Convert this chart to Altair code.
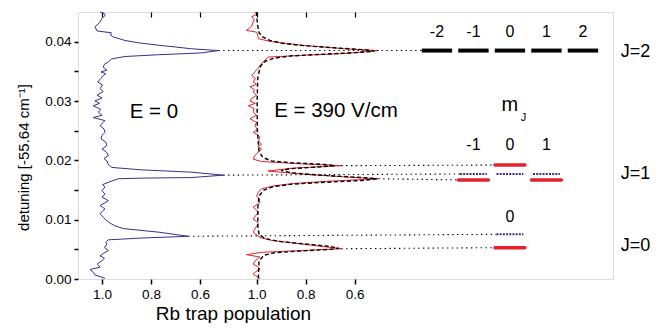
import altair as alt
import pandas as pd

# ---------------- data ----------------
# E = 0 spectrum (detuning, Rb trap population)
e0_det = [0.0450, 0.0447, 0.0444, 0.0439, 0.0432, 0.0425, 0.0418, 0.0415, 0.0411, 0.0408,
          0.0402, 0.0398, 0.0394, 0.0391, 0.0388, 0.0385, 0.0381, 0.0378, 0.0375, 0.0371,
          0.0366, 0.0362, 0.0357, 0.0352, 0.0349, 0.0346, 0.0343, 0.0338, 0.0332, 0.0327,
          0.0321, 0.0316, 0.0310, 0.0305, 0.0300, 0.0296, 0.0292, 0.0286, 0.0281, 0.0276,
          0.0272, 0.0267, 0.0262, 0.0258, 0.0253, 0.0247, 0.0242, 0.0236, 0.0231, 0.0225,
          0.0219, 0.0214, 0.0208, 0.0203, 0.0199, 0.0193, 0.0188, 0.0184, 0.0180, 0.0175,
          0.0171, 0.0170, 0.0169, 0.0163, 0.0159, 0.0155, 0.0149, 0.0143, 0.0138, 0.0132,
          0.0128, 0.0124, 0.0118, 0.0114, 0.0110, 0.0104, 0.0100, 0.0096, 0.0090, 0.0085,
          0.0079, 0.0072, 0.0069, 0.0066, 0.0062, 0.0059, 0.0053, 0.0048, 0.0043, 0.0039,
          0.0035, 0.0031, 0.0025, 0.0020, 0.0016, 0.0011, 0.0007, 0.0001]
e0_pop = [1.008, 0.990, 0.988, 1.000, 1.010, 1.029, 1.020, 0.962, 0.965, 0.954,
          0.906, 0.850, 0.770, 0.700, 0.634, 0.525, 0.595, 0.770, 0.906, 0.960,
          0.974, 0.990, 0.995, 0.980, 1.004, 0.985, 0.995, 1.005, 1.018, 0.998,
          1.008, 0.995, 1.020, 1.000, 1.029, 1.010, 1.036, 1.005, 1.015, 1.000,
          1.036, 0.988, 1.000, 1.008, 0.992, 0.988, 1.000, 1.004, 0.985, 0.980,
          1.000, 0.982, 0.974, 0.992, 0.980, 0.975, 0.960, 0.840, 0.634, 0.505,
          0.634, 0.840, 0.933, 0.974, 0.998, 0.988, 1.000, 0.988, 1.000, 0.974,
          0.990, 1.008, 0.988, 0.998, 1.008, 0.995, 0.985, 0.974, 0.950, 0.913,
          0.770, 0.648, 0.840, 0.974, 0.985, 0.980, 0.990, 0.974, 0.995, 1.008,
          0.990, 1.000, 1.020, 1.008, 1.049, 1.035, 1.029, 0.988]

# E = 390 V/cm spectrum
e390_det = [0.0450, 0.0446, 0.0442, 0.0437, 0.0433, 0.0426, 0.0419, 0.0416, 0.0410, 0.0405,
            0.0400, 0.0394, 0.0388, 0.0385, 0.0380, 0.0377, 0.0374, 0.0369, 0.0365, 0.0360,
            0.0355, 0.0349, 0.0343, 0.0338, 0.0332, 0.0328, 0.0324, 0.0319, 0.0315, 0.0310,
            0.0304, 0.0300, 0.0296, 0.0292, 0.0287, 0.0281, 0.0276, 0.0270, 0.0264, 0.0258,
            0.0252, 0.0247, 0.0243, 0.0239, 0.0233, 0.0227, 0.0223, 0.0219, 0.0214, 0.0208,
            0.0202, 0.0198, 0.0194, 0.0191, 0.0187, 0.0182, 0.0177, 0.0172, 0.0169, 0.0165,
            0.0161, 0.0157, 0.0152, 0.0146, 0.0140, 0.0135, 0.0129, 0.0121, 0.0116, 0.0112,
            0.0106, 0.0101, 0.0097, 0.0093, 0.0086, 0.0079, 0.0074, 0.0070, 0.0065, 0.0059,
            0.0051, 0.0048, 0.0045, 0.0041, 0.0037, 0.0031, 0.0025, 0.0021, 0.0017, 0.0012,
            0.0008, 0.0001]
e390_pop = [1.007, 1.000, 1.020, 1.010, 1.014, 1.020, 1.041, 1.000, 0.995, 0.993,
            0.939, 0.816, 0.640, 0.503, 0.640, 0.816, 0.953, 0.966, 0.975, 0.986,
            0.995, 1.007, 1.020, 1.005, 1.014, 1.000, 1.027, 1.008, 1.014, 1.000,
            1.020, 1.027, 1.005, 1.034, 1.010, 1.014, 1.000, 1.027, 1.000, 1.007,
            0.995, 1.014, 0.995, 0.986, 0.993, 0.980, 0.995, 0.980, 0.993, 1.007,
            1.014, 0.980, 0.816, 0.654, 0.850, 0.953, 0.820, 0.640, 0.503, 0.700,
            0.850, 0.930, 0.980, 0.993, 1.000, 0.990, 0.986, 1.014, 1.000, 0.993,
            1.005, 1.014, 1.000, 0.993, 1.005, 1.014, 1.000, 0.986, 0.939, 0.816,
            0.654, 0.816, 0.980, 1.041, 0.986, 1.005, 1.014, 0.995, 0.986, 1.005,
            1.014, 0.986]

# fit to the E = 390 V/cm spectrum (dashed)
fit_det = [0.0450, 0.0430, 0.0415, 0.0408, 0.0402, 0.0397, 0.0393, 0.0389, 0.0386, 0.0384,
           0.0382, 0.0379, 0.0376, 0.0372, 0.0367, 0.0358, 0.0340, 0.0300, 0.0250, 0.0215,
           0.0205, 0.0199, 0.0196, 0.0193, 0.0191, 0.0189, 0.0186, 0.0183, 0.0179, 0.0175,
           0.0171, 0.0169, 0.0166, 0.0163, 0.0160, 0.0156, 0.0150, 0.0140, 0.0120, 0.0090,
           0.0075, 0.0068, 0.0063, 0.0059, 0.0055, 0.0052, 0.0050, 0.0047, 0.0044, 0.0040,
           0.0030, 0.0000]
fit_pop = [1.000, 0.997, 0.990, 0.975, 0.945, 0.890, 0.800, 0.660, 0.550, 0.520,
           0.580, 0.720, 0.860, 0.930, 0.965, 0.985, 0.995, 0.998, 0.997, 0.990,
           0.975, 0.940, 0.860, 0.720, 0.680, 0.740, 0.860, 0.900, 0.860, 0.740,
           0.570, 0.510, 0.570, 0.720, 0.850, 0.930, 0.970, 0.990, 0.995, 0.995,
           0.990, 0.965, 0.900, 0.800, 0.700, 0.665, 0.700, 0.830, 0.930, 0.970,
           0.990, 0.993]

# energy levels
j2_m = [-2, -1, 0, 1, 2]
j2_det = [0.0385, 0.0385, 0.0385, 0.0385, 0.0385]
red_m = [-1, 0, 1, 0]
red_det = [0.0167, 0.0192, 0.0167, 0.00528]
blue_m = [-1, 0, 1, 0]
blue_det = [0.0177, 0.0177, 0.0177, 0.00753]

# dotted connectors: spectrum peak -> level
conn_series = ["E0", "E390", "E0", "E390", "E0", "E390"]
conn_peak_pop = [0.525, 0.654, 0.505, 0.503, 0.648, 0.654]
conn_peak_det = [0.0385, 0.0191, 0.0175, 0.0169, 0.0072, 0.0051]
conn_level_m = [-2, 0, -1, -1, 0, 0]
conn_level_det = [0.0385, 0.0192, 0.0177, 0.0167, 0.00753, 0.00528]
conn_level_kind = ["black", "red", "blue", "red", "blue", "red"]

# labels
mlab_j2 = ["-2", "-1", "0", "1", "2"]
mlab_j2_m = [-2, -1, 0, 1, 2]
mlab_j1 = ["-1", "0", "1"]
mlab_j1_m = [-1, 0, 1]
mlab_j0 = ["0"]
mlab_j0_m = [0]
j_labels = ["J=2", "J=1", "J=0"]
j_det = [0.0382, 0.0177, 0.0056]
pop_ticks = [1.0, 0.8, 0.6]

# ---------------- layout helpers ----------------
OFF = {"E0": 0.098, "E390": 0.729}   # axis position of population 1.0 for each spectrum
M0, MSTEP = 1.763, 0.149             # level column positions
HALF = {"black": 0.062, "red": 0.061, "blue": 0.055}
XMAX = 535 / 245.0
BLUE = "#3b2d8e"
RED = "#e5202a"
FONT = "Liberation Sans"


def upos(series, p):
    return OFF[series] + (1.0 - p)


def mpos(m):
    return M0 + m * MSTEP


def spec_df(series, det, pop):
    return pd.DataFrame({"u": [upos(series, p) for p in pop], "det": det, "idx": list(range(len(det)))})


df_e0 = spec_df("E0", e0_det, e0_pop)
df_e390 = spec_df("E390", e390_det, e390_pop)
df_fit = spec_df("E390", fit_det, fit_pop)

df_j2 = pd.DataFrame({"x1": [mpos(m) - HALF["black"] for m in j2_m],
                      "x2": [mpos(m) + HALF["black"] for m in j2_m], "det": j2_det})
df_red = pd.DataFrame({"x1": [mpos(m) - HALF["red"] for m in red_m],
                       "x2": [mpos(m) + HALF["red"] for m in red_m], "det": red_det})
df_blue = pd.DataFrame({"x1": [mpos(m) - HALF["blue"] for m in blue_m],
                        "x2": [mpos(m) + HALF["blue"] for m in blue_m], "det": blue_det})
df_conn = pd.DataFrame({
    "x1": [upos(s, p) for s, p in zip(conn_series, conn_peak_pop)],
    "x2": [mpos(m) - HALF[k] for m, k in zip(conn_level_m, conn_level_kind)],
    "y1": conn_peak_det, "y2": conn_level_det})

tick_vals = [upos(s, p) for s in ["E0", "E390"] for p in pop_ticks]

xscale = alt.Scale(domain=[0, XMAX], nice=False, zero=False)
yscale = alt.Scale(domain=[0, 0.045], nice=False, zero=False)

yaxis = alt.Axis(values=[i * 0.005 for i in range(9)],
                 labelExpr="(round(datum.value*1000) % 10 == 0) ? format(datum.value, '.2f') : ''",
                 title="detuning [-55.64 cm\u207b\u00b9]", titleFontSize=15, titleFontWeight="normal",
                 titleFont=FONT, titleColor="black", titleX=-50, titleY=145, titleBaseline="alphabetic",
                 labelFont=FONT, labelFontSize=13.5, labelColor="black", labelPadding=3,
                 tickSize=4, tickWidth=1.5, tickColor="black", domain=False, grid=False)
Y = alt.Y("det:Q", scale=yscale, axis=yaxis)

bottom_axis = alt.Axis(values=tick_vals, orient="bottom",
                       labelExpr="format(1 - (datum.value < 0.6 ? datum.value - 0.098 : datum.value - 0.729), '.1f')",
                       title="Rb trap population", titleFont=FONT, titleFontSize=19, titleFontWeight="normal",
                       titleColor="black", titleX=155, titleY=40, titleBaseline="alphabetic",
                       labelFont=FONT, labelFontSize=13.5, labelColor="black", labelPadding=3,
                       tickSize=5, tickWidth=1.5, tickColor="black", domain=False, grid=False)
top_axis = alt.Axis(values=tick_vals, orient="top", labels=False, title=None, offset=-5,
                    tickSize=5, tickWidth=1.2, tickColor="black", domain=False, grid=False)

blue_line = alt.Chart(df_e0).mark_line(color=BLUE, strokeWidth=1).encode(
    x=alt.X("u:Q", scale=xscale, axis=bottom_axis), y=Y, order="idx:Q")
red_line = alt.Chart(df_e390).mark_line(color=RED, strokeWidth=1).encode(
    x=alt.X("u:Q", scale=xscale, axis=None), y=Y, order="idx:Q")
fit_line = alt.Chart(df_fit).mark_line(color="black", strokeWidth=1.4, strokeDash=[4, 2.5]).encode(
    x=alt.X("u:Q", scale=xscale, axis=top_axis), y=Y, order="idx:Q")

conn = alt.Chart(df_conn).mark_rule(color="black", strokeWidth=1.1, strokeDash=[1.4, 3.4]).encode(
    x=alt.X("x1:Q", scale=xscale, axis=None), x2="x2:Q",
    y=Y, y2="y2:Q").transform_calculate(det="datum.y1")

lev_black = alt.Chart(df_j2).mark_rule(color="black", strokeWidth=4).encode(
    x=alt.X("x1:Q", scale=xscale, axis=None), x2="x2:Q", y=Y)
lev_red = alt.Chart(df_red).mark_rule(color=RED, strokeWidth=3.5, strokeCap="round").encode(
    x=alt.X("x1:Q", scale=xscale, axis=None), x2="x2:Q", y=Y)
lev_blue = alt.Chart(df_blue).mark_rule(color=BLUE, strokeWidth=2, strokeDash=[2, 1.2]).encode(
    x=alt.X("x1:Q", scale=xscale, axis=None), x2="x2:Q", y=Y)

txt_rows = []
for lab, m in zip(mlab_j2, mlab_j2_m):
    txt_rows.append({"t": lab, "u": mpos(m), "det": 0.0417, "s": 16})
for lab, m in zip(mlab_j1, mlab_j1_m):
    txt_rows.append({"t": lab, "u": mpos(m), "det": 0.02258, "s": 16})
for lab, m in zip(mlab_j0, mlab_j0_m):
    txt_rows.append({"t": lab, "u": mpos(m), "det": 0.01053, "s": 16})
txt_rows.append({"t": "E = 0", "u": 0.310, "det": 0.0281, "s": 20.5})
txt_rows.append({"t": "E = 390 V/cm", "u": 1.053, "det": 0.0283, "s": 20.5})
txt_rows.append({"t": "m", "u": mpos(0), "det": 0.0294, "s": 20})
df_txt = pd.DataFrame(txt_rows)

texts = alt.Chart(df_txt).mark_text(font=FONT, color="black", baseline="middle", align="center").encode(
    x=alt.X("u:Q", scale=xscale, axis=None), y=Y, text="t:N",
    size=alt.Size("s:Q", scale=None, legend=None))
sub_j = alt.Chart(pd.DataFrame({"t": ["J"], "u": [mpos(0) + 0.055], "det": [0.0272]})).mark_text(
    font=FONT, color="black", fontSize=11, baseline="middle", align="center").encode(
    x=alt.X("u:Q", scale=xscale, axis=None), y=Y, text="t:N")
jtxt = alt.Chart(pd.DataFrame({"t": j_labels, "det": j_det, "u": [2.215] * 3})).mark_text(
    font=FONT, color="black", fontSize=18, baseline="middle", align="left").encode(
    x=alt.X("u:Q", scale=xscale, axis=None), y=Y, text="t:N")

chart = alt.layer(blue_line, red_line, fit_line, conn, lev_black, lev_red, lev_blue,
                  texts, sub_j, jtxt).resolve_axis(x="independent").properties(
    width=535, height=267,
    autosize=alt.AutoSizeParams(type="none"),
    padding={"left": 70, "top": 4, "right": 42, "bottom": 44},
).configure_view(stroke="black", strokeWidth=1.6).configure(background="white")

chart.save("out.html", embed_options={"renderer": "svg", "actions": False})
